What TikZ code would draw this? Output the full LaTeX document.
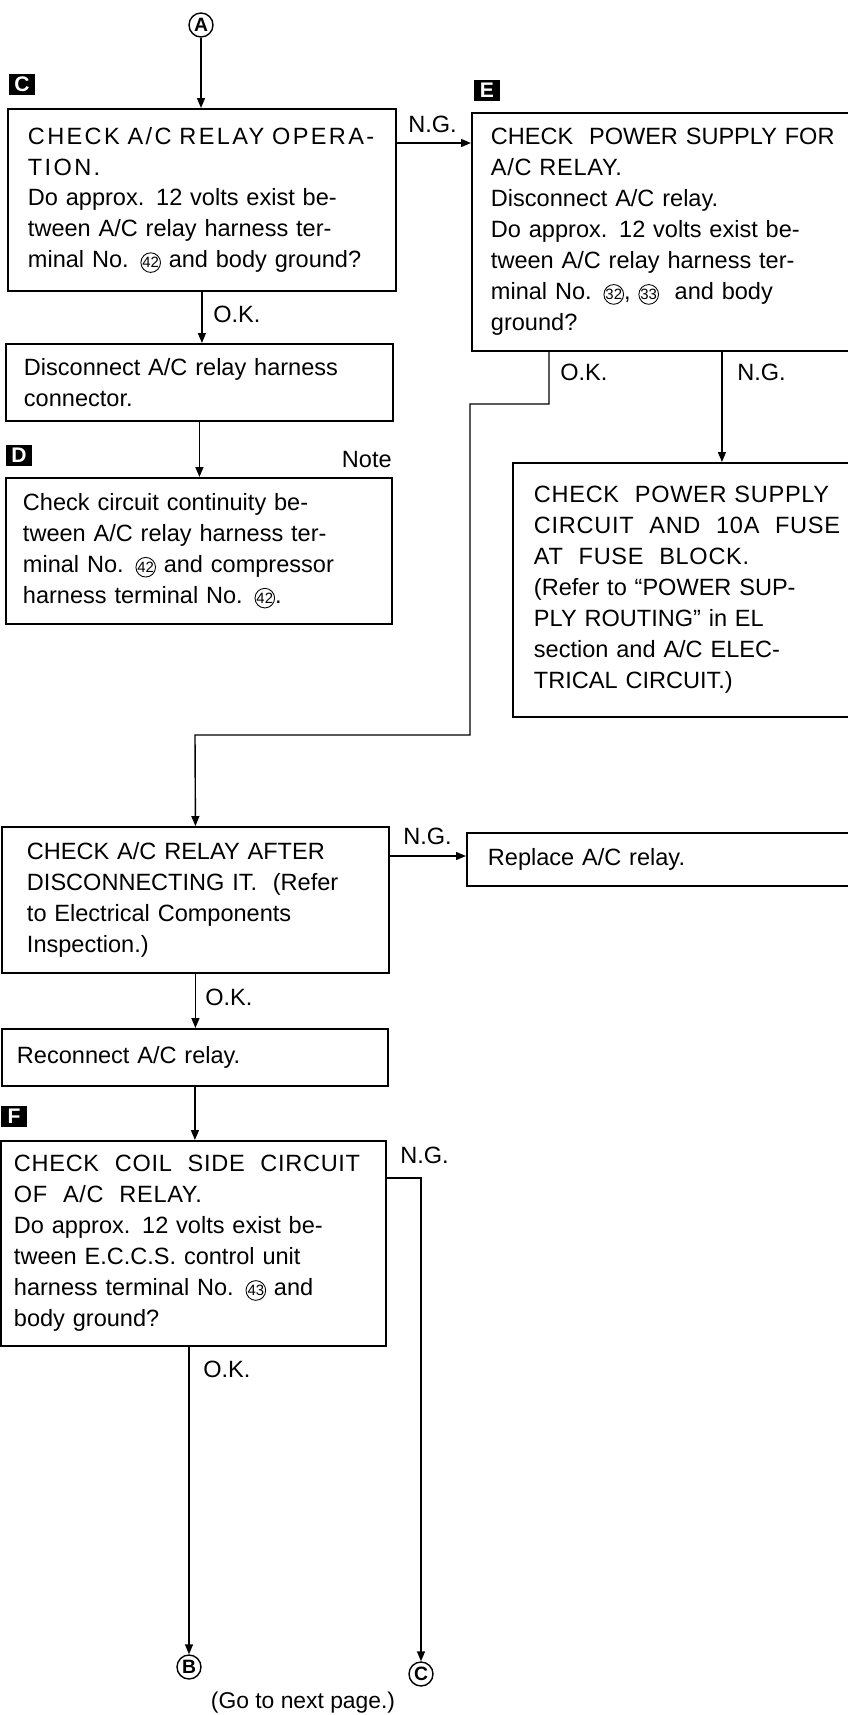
\documentclass[tikz,border=0pt]{standalone}
\usepackage{fontspec}
\setmainfont{Liberation Sans}
\usetikzlibrary{arrows.meta, positioning, calc}

\newcommand{\hdr}[2][3]{{\addfontfeatures{LetterSpace=#1}#2}}
\newcommand{\cnum}[1]{\tikz[baseline=(cn.base)]\node[circle, draw, line width=0.5pt,
  inner sep=0pt, minimum size=0.36cm, font=\fontsize{8.5}{8.5}\selectfont] (cn) {#1};}

\tikzset{
  box/.style={draw, line width=1.1pt, anchor=north west, align=left,
    font=\fontsize{13.4}{17.6}\selectfont},
  tag/.style={fill=black, text=white, inner sep=0pt, minimum width=0.52cm,
    minimum height=0.42cm, font=\bfseries\fontsize{12}{12}\selectfont},
  term/.style={circle, draw, line width=0.8pt, inner sep=0pt, minimum size=0.48cm,
    font=\bfseries\fontsize{11}{11}\selectfont},
  flow/.style={line width=0.8pt, -{Triangle[length=2mm, width=1.6mm]}},
  lbl/.style={anchor=base west, inner sep=0pt, font=\fontsize{13.4}{13.4}\selectfont}
}

\begin{document}
\begin{tikzpicture}[x=0.02cm, y=-0.02cm]
  \useasboundingbox (0,0) rectangle (848,1715);

  % left column
  \node[term] (ta) at (201,25) {A};
  \node[tag] (tagC) at (22,84) {C};
  \node[box, text width=6.96cm, inner xsep=0.4cm, minimum height=3.64cm] (chkC) at (7,108) {
    \hdr[10]{CHECK\ A/C\ RELAY\ OPERA-}\\
    \hdr[10]{TION.}\\
    Do approx. 12 volts exist be-\\
    tween A/C relay harness ter-\\
    minal No. \cnum{42} and body ground?
  };
  \node[box, text width=7.02cm, inner xsep=0.36cm, minimum height=1.54cm] (disc) at (5,343) {
    Disconnect A/C relay harness\\
    connector.
  };
  \node[tag] (tagD) at (19,455) {D};
  \node[anchor=base east, inner sep=0pt, font=\fontsize{13.4}{13.4}\selectfont] (note) at (392,467) {Note};
  \node[box, text width=7.04cm, inner xsep=0.34cm, minimum height=2.92cm] (contD) at (5,477) {
    Check circuit continuity be-\\
    tween A/C relay harness ter-\\
    minal No. \cnum{42} and compressor\\
    harness terminal No. \cnum{42}.
  };

  % right column
  \node[tag] (tagE) at (487,90) {E};
  \node[box, text width=7.42cm, inner xsep=0.38cm, minimum height=4.76cm] (pwrE) at (471,112) {
    CHECK\ \ POWER SUPPLY FOR\\
    \hdr{A/C RELAY.}\\
    Disconnect A/C relay.\\
    Do approx. 12 volts exist be-\\
    tween A/C relay harness ter-\\
    minal No. \cnum{32}, \cnum{33}\ \ and body\\
    ground?
  };
  \node[box, text width=6.52cm, inner xsep=0.42cm, minimum height=5.08cm] (pwrckt) at (512,462) {
    \hdr{CHECK\ \ POWER SUPPLY}\\
    \hdr{CIRCUIT\ \ AND\ \ 10A\ \ FUSE}\\
    \hdr{AT\ \ FUSE\ \ BLOCK.}\\
    (Refer to “POWER SUP-\\
    PLY ROUTING” in EL\\
    section and A/C ELEC-\\
    TRICAL CIRCUIT.)
  };

  % lower part
  \node[box, text width=6.74cm, inner xsep=0.5cm, minimum height=2.92cm] (relayaft) at (1,826) {
    CHECK A/C RELAY AFTER\\
    DISCONNECTING IT.\ \ (Refer\\
    to Electrical Components\\
    Inspection.)
  };
  \node[box, text width=7.44cm, inner xsep=0.42cm, minimum height=1.06cm] (replace) at (466,832) {
    Replace A/C relay.
  };
  \node[box, text width=7.12cm, inner xsep=0.3cm, minimum height=1.14cm] (reconn) at (1,1028) {
    Reconnect A/C relay.
  };
  \node[tag] (tagF) at (14,1116) {F};
  \node[box, text width=7.18cm, inner xsep=0.26cm, minimum height=4.1cm] (coilF) at (0,1140) {
    \hdr{CHECK\ \ COIL\ \ SIDE\ \ CIRCUIT}\\
    \hdr{OF\ \ A/C\ \ RELAY.}\\
    Do approx. 12 volts exist be-\\
    tween E.C.C.S. control unit\\
    harness terminal No. \cnum{43} and\\
    body ground?
  };
  \node[term] (tb) at (189,1667) {B};
  \node[term] (tc) at (421,1674) {C};
  \node[font=\fontsize{13}{13}\selectfont] (gonext) at (303,1703) {(Go to next page.)};

  % connectors
  \coordinate (okbend) at (470,404);
  \coordinate (okturn) at (195,735);
  \draw[flow] (ta) -- (ta |- chkC.north);
  \draw[flow] (chkC.south) -- (chkC.south |- disc.north);
  \draw[flow] (disc.south) -- (disc.south |- contD.north);
  \draw[flow] ([yshift=-0.7cm]chkC.north east) -- ([yshift=-0.7cm]chkC.north east -| pwrE.west);
  \draw[flow] ([xshift=1.56cm]pwrE.south west) |- (okbend) |- (okturn) -- (relayaft.north);
  \draw[flow] ([xshift=5.02cm]pwrE.south west) -- ([xshift=5.02cm]pwrE.south west |- pwrckt.north);
  \draw[flow] ([yshift=-0.6cm]relayaft.north east) -- ([yshift=-0.6cm]relayaft.north east -| replace.west);
  \draw[flow] (relayaft.south) -- (relayaft.south |- reconn.north);
  \draw[flow] (reconn.south) -- (reconn.south |- coilF.north);
  \draw[flow] (tb |- coilF.south) -- (tb);
  \draw[flow] ([yshift=-0.76cm]coilF.north east) -| (tc);

  % branch labels
  \node[lbl] (okC) at (213,322) {O.K.};
  \node[lbl] (ngC) at (408,132) {N.G.};
  \node[lbl] (okE) at (560,380) {O.K.};
  \node[lbl] (ngE) at (737,380) {N.G.};
  \node[lbl] (ngR) at (403,844) {N.G.};
  \node[lbl] (okR) at (205,1005) {O.K.};
  \node[lbl] (ngF) at (400,1163) {N.G.};
  \node[lbl] (okF) at (203,1377) {O.K.};
\end{tikzpicture}
\end{document}
